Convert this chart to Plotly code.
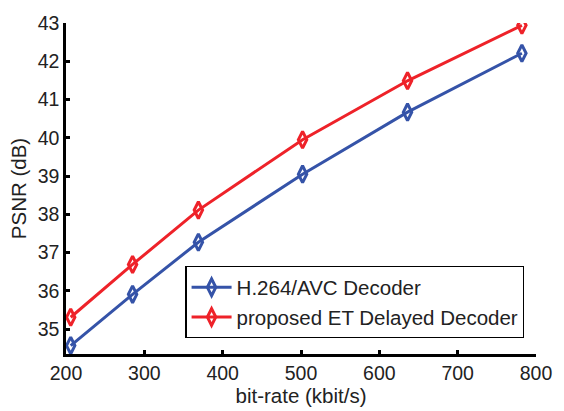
import plotly.graph_objects as go

# Rate-distortion points
bitrate_h264 = [206, 285, 369, 502, 636, 782]
psnr_h264 = [34.57, 35.91, 37.27, 39.05, 40.67, 42.21]
bitrate_et = [206, 285, 369, 502, 636, 782]
psnr_et = [35.31, 36.69, 38.11, 39.95, 41.49, 42.94]

series_names = ["H.264/AVC Decoder", "proposed ET Delayed Decoder"]
x_ticks = [200, 300, 400, 500, 600, 700, 800]
y_ticks = [35, 36, 37, 38, 39, 40, 41, 42, 43]

BLUE = "#3553a8"
RED = "#ee2229"
FONT = "Liberation Sans, Arial, sans-serif"

fig = go.Figure()
for xs, ys, name, col in [
    (bitrate_h264, psnr_h264, series_names[0], BLUE),
    (bitrate_et, psnr_et, series_names[1], RED),
]:
    fig.add_trace(go.Scatter(
        x=xs, y=ys, name=name, mode="lines+markers",
        line=dict(color=col, width=3),
        marker=dict(symbol="diamond-tall-open", size=12, color=col,
                    line=dict(color=col, width=3)),
    ))

axis_common = dict(
    showline=True, linecolor="black", linewidth=2.5, mirror=False,
    ticks="inside", ticklen=4, tickwidth=2.5, tickcolor="black",
    showgrid=False, zeroline=False,
    tickfont=dict(family=FONT, size=19.5, color="#222"),
)

fig.update_layout(
    width=564, height=411,
    margin=dict(l=66, r=26, t=15, b=48),
    paper_bgcolor="white", plot_bgcolor="white",
    font=dict(family=FONT, color="#222"),
    xaxis=dict(range=[200, 800], tickvals=x_ticks,
               title=dict(text="bit-rate (kbit/s)", font=dict(family=FONT, size=20.5), standoff=0),
               **axis_common),
    yaxis=dict(range=[34.35, 43], tickvals=y_ticks,
               title=dict(text="PSNR (dB)", font=dict(family=FONT, size=20.5), standoff=6),
               **axis_common),
    legend=dict(
        x=0.254, y=0.265, xanchor="left", yanchor="top",
        bgcolor="white", bordercolor="black", borderwidth=1.2,
        font=dict(family=FONT, size=20.5, color="#222"),
        itemwidth=40, tracegroupgap=0,
    ),
    showlegend=True,
)

fig.write_html("out.html")
